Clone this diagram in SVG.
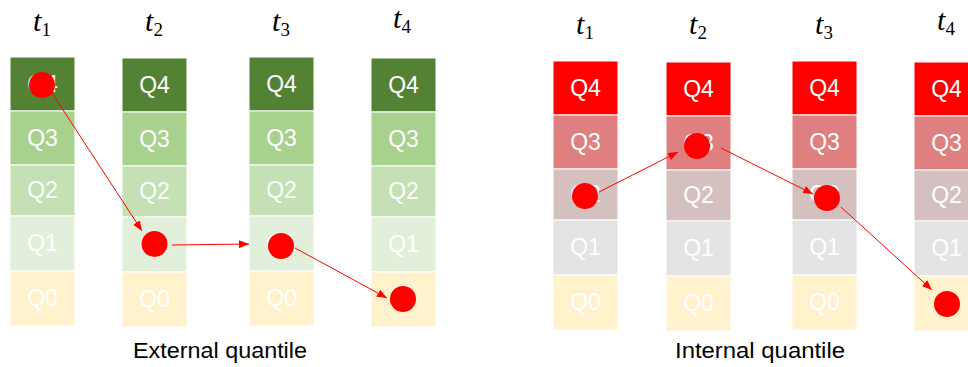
<svg xmlns="http://www.w3.org/2000/svg" width="968" height="367" viewBox="0 0 968 367">
<defs>
<style>
.c{stroke:#fff;stroke-width:1}
.g4{fill:#548235}.g3{fill:#A9D18E}.g2{fill:#C5E0B4}.g1{fill:#E2EFDA}.g0{fill:#FFF2CC}
.r4{fill:#FF0000}.r3{fill:#DF7F7F}.r2{fill:#D5C0C0}.r1{fill:#E5E3E4}.r0{fill:#FFF2CC}
.q{font-family:"Liberation Sans",Arial,sans-serif;font-size:23px;fill:#fff;text-anchor:middle}
.t{font-family:"Liberation Serif","Times New Roman",serif;font-style:italic;font-size:30px;fill:#000;text-anchor:middle}
.s{font-style:normal;font-size:19px}
.cap{font-family:"Liberation Sans",Arial,sans-serif;font-size:22px;fill:#000;text-anchor:middle}
.dot{fill:#FF0000}
.a{stroke:#FF0000;stroke-width:1;fill:none;marker-end:url(#ah)}
</style>
<marker id="ah" viewBox="0 0 10 10" refX="10" refY="5" markerWidth="10" markerHeight="10" markerUnits="userSpaceOnUse" orient="auto">
<path d="M0,1 L10,5 L0,9 Z" fill="#FF0000"/>
</marker>
</defs>
<rect width="968" height="367" fill="#fff"/>

<!-- Left panel: External quantile -->
<g id="ext-t1">
<text class="t" x="42" y="31">t<tspan class="s" dy="5">1</tspan></text>
<g transform="translate(10,57)">
<rect class="c g4" x="0" y="0" width="65" height="54"/>
<rect class="c g3" x="0" y="54" width="65" height="54"/>
<rect class="c g2" x="0" y="108" width="65" height="51"/>
<rect class="c g1" x="0" y="159" width="65" height="55"/>
<rect class="c g0" x="0" y="214" width="65" height="55"/>
<text class="q" x="32.5" y="35">Q4</text>
<text class="q" x="32.5" y="89">Q3</text>
<text class="q" x="32.5" y="141">Q2</text>
<text class="q" x="32.5" y="194">Q1</text>
<text class="q" x="32.5" y="249">Q0</text>
</g>
<circle class="dot" cx="42" cy="85" r="13"/>
</g>
<g id="ext-t2">
<text class="t" x="154" y="31">t<tspan class="s" dy="5">2</tspan></text>
<g transform="translate(122,58)">
<rect class="c g4" x="0" y="0" width="65" height="54"/>
<rect class="c g3" x="0" y="54" width="65" height="54"/>
<rect class="c g2" x="0" y="108" width="65" height="51"/>
<rect class="c g1" x="0" y="159" width="65" height="55"/>
<rect class="c g0" x="0" y="214" width="65" height="55"/>
<text class="q" x="32.5" y="35">Q4</text>
<text class="q" x="32.5" y="89">Q3</text>
<text class="q" x="32.5" y="141">Q2</text>
<text class="q" x="32.5" y="194">Q1</text>
<text class="q" x="32.5" y="249">Q0</text>
</g>
<circle class="dot" cx="154.5" cy="244" r="13"/>
</g>
<g id="ext-t3">
<text class="t" x="281" y="31">t<tspan class="s" dy="5">3</tspan></text>
<g transform="translate(249,57)">
<rect class="c g4" x="0" y="0" width="65" height="54"/>
<rect class="c g3" x="0" y="54" width="65" height="54"/>
<rect class="c g2" x="0" y="108" width="65" height="51"/>
<rect class="c g1" x="0" y="159" width="65" height="55"/>
<rect class="c g0" x="0" y="214" width="65" height="55"/>
<text class="q" x="32.5" y="35">Q4</text>
<text class="q" x="32.5" y="89">Q3</text>
<text class="q" x="32.5" y="141">Q2</text>
<text class="q" x="32.5" y="194">Q1</text>
<text class="q" x="32.5" y="249">Q0</text>
</g>
<circle class="dot" cx="281" cy="246" r="13"/>
</g>
<g id="ext-t4">
<text class="t" x="402" y="28">t<tspan class="s" dy="5">4</tspan></text>
<g transform="translate(371,58)">
<rect class="c g4" x="0" y="0" width="65" height="54"/>
<rect class="c g3" x="0" y="54" width="65" height="54"/>
<rect class="c g2" x="0" y="108" width="65" height="51"/>
<rect class="c g1" x="0" y="159" width="65" height="55"/>
<rect class="c g0" x="0" y="214" width="65" height="55"/>
<text class="q" x="32.5" y="35">Q4</text>
<text class="q" x="32.5" y="89">Q3</text>
<text class="q" x="32.5" y="141">Q2</text>
<text class="q" x="32.5" y="194">Q1</text>
</g>
<circle class="dot" cx="403" cy="299" r="13"/>
</g>
<text id="ext-caption" class="cap" x="220" y="358" textLength="174" lengthAdjust="spacingAndGlyphs">External quantile</text>

<!-- Right panel: Internal quantile -->
<g id="int-t1">
<text class="t" x="585" y="34">t<tspan class="s" dy="5">1</tspan></text>
<g transform="translate(553,61)">
<rect class="c r4" x="0" y="0" width="65" height="54"/>
<rect class="c r3" x="0" y="54" width="65" height="54"/>
<rect class="c r2" x="0" y="108" width="65" height="51"/>
<rect class="c r1" x="0" y="159" width="65" height="55"/>
<rect class="c r0" x="0" y="214" width="65" height="55"/>
<text class="q" x="32.5" y="35">Q4</text>
<text class="q" x="32.5" y="89">Q3</text>
<text class="q" x="32.5" y="141">Q2</text>
<text class="q" x="32.5" y="194">Q1</text>
<text class="q" x="32.5" y="249">Q0</text>
</g>
<circle class="dot" cx="585" cy="196" r="13"/>
</g>
<g id="int-t2">
<text class="t" x="698" y="34">t<tspan class="s" dy="5">2</tspan></text>
<g transform="translate(666,62)">
<rect class="c r4" x="0" y="0" width="65" height="54"/>
<rect class="c r3" x="0" y="54" width="65" height="54"/>
<rect class="c r2" x="0" y="108" width="65" height="51"/>
<rect class="c r1" x="0" y="159" width="65" height="55"/>
<rect class="c r0" x="0" y="214" width="65" height="55"/>
<text class="q" x="32.5" y="35">Q4</text>
<text class="q" x="32.5" y="89">Q3</text>
<text class="q" x="32.5" y="141">Q2</text>
<text class="q" x="32.5" y="194">Q1</text>
<text class="q" x="32.5" y="249">Q0</text>
</g>
<circle class="dot" cx="697" cy="146" r="13"/>
</g>
<g id="int-t3">
<text class="t" x="824" y="34">t<tspan class="s" dy="5">3</tspan></text>
<g transform="translate(792,61)">
<rect class="c r4" x="0" y="0" width="65" height="54"/>
<rect class="c r3" x="0" y="54" width="65" height="54"/>
<rect class="c r2" x="0" y="108" width="65" height="51"/>
<rect class="c r1" x="0" y="159" width="65" height="55"/>
<rect class="c r0" x="0" y="214" width="65" height="55"/>
<text class="q" x="32.5" y="35">Q4</text>
<text class="q" x="32.5" y="89">Q3</text>
<text class="q" x="32.5" y="141">Q2</text>
<text class="q" x="32.5" y="194">Q1</text>
<text class="q" x="32.5" y="249">Q0</text>
</g>
<circle class="dot" cx="827" cy="198" r="13"/>
</g>
<g id="int-t4">
<text class="t" x="946" y="30">t<tspan class="s" dy="5">4</tspan></text>
<g transform="translate(914,62)">
<rect class="c r4" x="0" y="0" width="65" height="54"/>
<rect class="c r3" x="0" y="54" width="65" height="54"/>
<rect class="c r2" x="0" y="108" width="65" height="51"/>
<rect class="c r1" x="0" y="159" width="65" height="55"/>
<rect class="c r0" x="0" y="214" width="65" height="55"/>
<text class="q" x="32.5" y="35">Q4</text>
<text class="q" x="32.5" y="89">Q3</text>
<text class="q" x="32.5" y="141">Q2</text>
<text class="q" x="32.5" y="194">Q1</text>
</g>
<circle class="dot" cx="947" cy="304" r="13"/>
</g>
<text id="int-caption" class="cap" x="760" y="358" textLength="170" lengthAdjust="spacingAndGlyphs">Internal quantile</text>

<g id="connectors">
<line class="a" x1="52" y1="93" x2="142" y2="231"/>
<line class="a" x1="172" y1="245" x2="249" y2="244"/>
<line class="a" x1="295" y1="248" x2="387" y2="298"/>
<line class="a" x1="599" y1="192" x2="678" y2="152"/>
<line class="a" x1="721" y1="148" x2="813" y2="194"/>
<line class="a" x1="841" y1="207" x2="932" y2="290"/>
</g>
</svg>
